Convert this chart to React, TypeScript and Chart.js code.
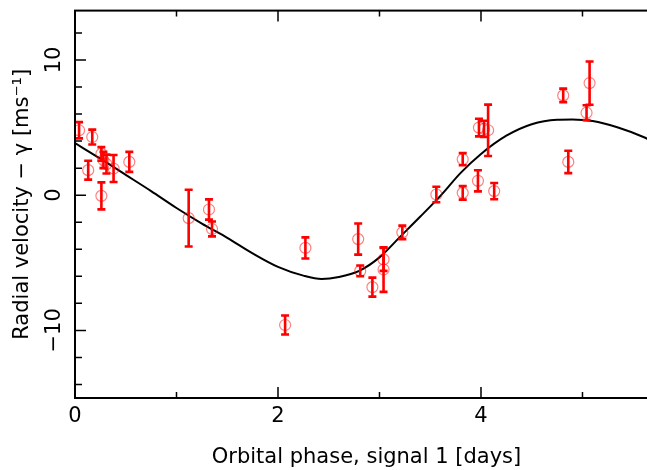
import React, { useEffect, useRef } from 'react';
import { Chart, registerables } from 'chart.js';

Chart.register(...registerables);

// Observed radial velocities (phase in days, RV in m/s, 1-sigma error)
const obsX = [0.04, 0.13, 0.17, 0.26, 0.26, 0.28, 0.31, 0.38, 0.535, 1.12, 1.32, 1.35, 2.07, 2.27, 2.79, 2.81, 2.93, 3.04, 3.04, 3.225, 3.56, 3.82, 3.82, 3.97, 3.98, 4.03, 4.07, 4.13, 4.81, 4.86, 5.04, 5.07];
const obsY = [4.8, 1.85, 4.3, 3.05, -0.05, 2.6, 2.3, 1.97, 2.46, -1.7, -1.06, -2.5, -9.6, -3.9, -3.25, -5.6, -6.8, -4.75, -5.5, -2.75, 0.05, 2.66, 0.17, 1.06, 5.0, 4.9, 4.8, 0.3, 7.38, 2.46, 6.1, 8.29];
const obsErr = [0.6, 0.7, 0.55, 0.5, 1.0, 0.6, 0.7, 1.0, 0.74, 2.1, 0.75, 0.55, 0.7, 0.78, 1.15, 0.4, 0.7, 0.85, 1.65, 0.5, 0.57, 0.45, 0.5, 0.78, 0.65, 0.6, 1.9, 0.6, 0.5, 0.83, 0.55, 1.6];

// Fitted orbit curve
const modelX = [0, 0.25, 0.5, 0.75, 1.0, 1.25, 1.5, 1.75, 2.0, 2.25, 2.43, 2.6, 2.8, 3.0, 3.2, 3.4, 3.6, 3.8, 4.0, 4.25, 4.5, 4.75, 4.9, 5.1, 5.35, 5.6, 5.75];
const modelY = [3.85, 2.7, 1.5, 0.3, -0.95, -2.1, -3.15, -4.3, -5.3, -5.95, -6.2, -6.05, -5.6, -4.6, -3.1, -1.6, -0.05, 1.65, 3.05, 4.4, 5.25, 5.58, 5.6, 5.48, 5.0, 4.3, 3.75];

// Axis ticks
const xMajorTicks = [0, 2, 4];
const xMinorTicks = [1, 3, 5];
const yMajorTicks = [-10, 0, 10];
const yMinorTicks = [-14, -12, -8, -6, -4, -2, 2, 4, 6, 8, 12];

const X_MIN = 0;
const X_MAX = 5.744;
const Y_MIN = -15;
const Y_MAX = 13.65;

const xTitle = 'Orbital phase, signal 1 [days]';
const yTitle = 'Radial velocity \u2212 \u03b3 [ms\u207b\u00b9]';

const FONT = "'DejaVu Sans', sans-serif";

const framePlugin = {
  id: 'frameAndErrors',
  afterDatasetsDraw(chart: any) {
    const { ctx, scales } = chart;
    const xs = scales.x;
    const ys = scales.y;
    ctx.save();
    ctx.strokeStyle = '#ff0000';
    ctx.lineWidth = 2.6;
    for (let i = 0; i < obsX.length; i++) {
      const px = xs.getPixelForValue(obsX[i]);
      const pTop = ys.getPixelForValue(obsY[i] + obsErr[i]);
      const pBot = ys.getPixelForValue(obsY[i] - obsErr[i]);
      ctx.beginPath();
      ctx.moveTo(px, pTop);
      ctx.lineTo(px, pBot);
      ctx.moveTo(px - 4, pTop);
      ctx.lineTo(px + 4, pTop);
      ctx.moveTo(px - 4, pBot);
      ctx.lineTo(px + 4, pBot);
      ctx.stroke();
    }
    ctx.restore();
  },
  afterDraw(chart: any) {
    const { ctx, chartArea, scales } = chart;
    const xs = scales.x;
    const ys = scales.y;
    const { left, right, top, bottom } = chartArea;
    ctx.save();
    ctx.strokeStyle = '#000';
    ctx.lineWidth = 2;
    ctx.strokeRect(left, top, right - left, bottom - top);
    ctx.lineWidth = 1.5;
    ctx.beginPath();
    const xt = (v: number, len: number) => {
      const p = xs.getPixelForValue(v);
      ctx.moveTo(p, bottom);
      ctx.lineTo(p, bottom - len);
      ctx.moveTo(p, top);
      ctx.lineTo(p, top + len);
    };
    const yt = (v: number, len: number) => {
      const p = ys.getPixelForValue(v);
      ctx.moveTo(left, p);
      ctx.lineTo(left + len, p);
      ctx.moveTo(right, p);
      ctx.lineTo(right - len, p);
    };
    xMajorTicks.forEach((v) => xt(v, 11));
    xMinorTicks.forEach((v) => xt(v, 6));
    yMajorTicks.forEach((v) => yt(v, 11));
    yMinorTicks.forEach((v) => yt(v, 7));
    ctx.stroke();
    ctx.restore();
  },
};

export default function App() {
  const ref = useRef<HTMLCanvasElement | null>(null);
  useEffect(() => {
    document.body.style.margin = '0';
    const canvas = ref.current;
    if (!canvas) return;
    Chart.defaults.font.family = FONT;
    Chart.defaults.color = '#000';
    const chart = new Chart(canvas, {
      type: 'scatter',
      data: {
        datasets: [
          {
            type: 'line',
            label: 'model',
            data: modelX.map((x, i) => ({ x, y: modelY[i] })),
            borderColor: '#000',
            borderWidth: 2,
            pointRadius: 0,
            cubicInterpolationMode: 'monotone',
            fill: false,
            order: 2,
          } as any,
          {
            type: 'scatter',
            label: 'data',
            data: obsX.map((x, i) => ({ x, y: obsY[i] })),
            pointStyle: 'circle',
            pointRadius: 5.5,
            pointBorderWidth: 1.2,
            pointBorderColor: 'rgba(255,0,0,0.5)',
            pointBackgroundColor: 'rgba(0,0,0,0)',
            order: 1,
          } as any,
        ],
      },
      options: {
        responsive: false,
        animation: false,
        events: [],
        layout: { padding: { top: 10, right: 8, left: 0, bottom: 0 } },
        plugins: {
          legend: { display: false },
          tooltip: { enabled: false },
        },
        scales: {
          x: {
            type: 'linear',
            min: X_MIN,
            max: X_MAX,
            grid: { display: false, drawTicks: false },
            border: { display: false },
            ticks: {
              stepSize: 2,
              includeBounds: false,
              autoSkip: false,
              maxRotation: 0,
              minRotation: 0,
              padding: 6,
              font: { size: 21, family: FONT },
              color: '#000',
            },
            title: {
              display: true,
              text: xTitle,
              font: { size: 21, family: FONT },
              color: '#000',
              padding: { top: 0, bottom: 0 },
            },
            afterFit: (s: any) => {
              s.height = 72;
            },
          },
          y: {
            type: 'linear',
            min: Y_MIN,
            max: Y_MAX,
            grid: { display: false, drawTicks: false },
            border: { display: false },
            ticks: {
              stepSize: 10,
              includeBounds: false,
              autoSkip: false,
              minRotation: 90,
              maxRotation: 90,
              crossAlign: 'center',
              padding: -2,
              font: { size: 21, family: FONT },
              color: '#000',
              callback: (v: any) => (Number(v) < 0 ? '\u2212' + Math.abs(Number(v)) : String(v)),
            },
            title: {
              display: true,
              text: yTitle,
              font: { size: 21, family: FONT },
              color: '#000',
              padding: { top: 10, bottom: 0 },
            },
            afterFit: (s: any) => {
              s.width = 75;
            },
          },
        },
      } as any,
      plugins: [framePlugin],
    });
    return () => chart.destroy();
  }, []);
  return (
    <div style={{ width: 647, height: 470, overflow: 'hidden', position: 'relative', background: '#fff' }}>
      <canvas ref={ref} width={666} height={470} style={{ width: 666, height: 470, display: 'block' }} />
    </div>
  );
}
